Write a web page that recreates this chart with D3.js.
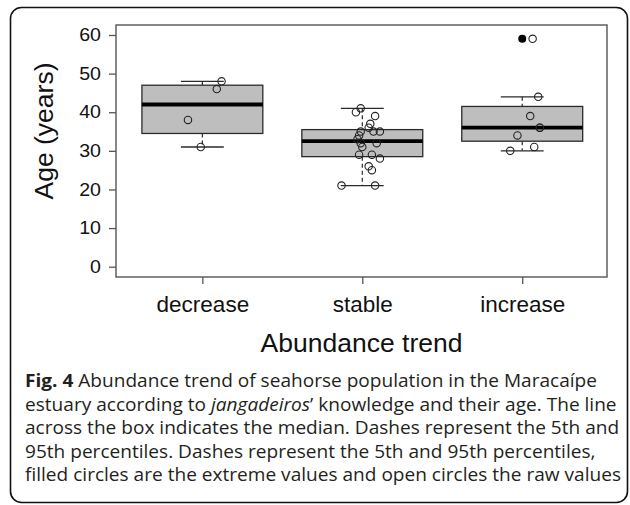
<!DOCTYPE html>
<html>
<head>
<meta charset="utf-8">
<script src="https://cdn.jsdelivr.net/npm/d3@7"></script>
<style>
  body { margin: 0; background: #fff; }
  svg { display: block; }
</style>
</head>
<body>
<div class="canvas"></div>
<script>
// categories and raw ages
const categories = ['decrease', 'stable', 'increase']
const decreaseAges = [48, 46, 38, 31]
const stableAges = [41, 40, 39, 37, 36, 35, 35, 35, 34, 33, 32, 32, 31, 29, 29, 28, 26, 25, 21, 21]
const increaseAges = [59, 44, 39, 36, 36, 34, 31, 30]
// horizontal jitter of each raw point, in category units
const decreaseJitter = [0.12, 0.09, -0.09, -0.01]
const stableJitter = [-0.01, -0.04, 0.08, 0.05, 0.04, -0.01, 0.07, 0.11, -0.02, -0.03, -0.01, 0.09, 0, -0.02, 0.06, 0.11, 0.04, 0.06, -0.13, 0.08]
const increaseJitter = [0.065, 0.1, 0.05, 0.11, 0.11, -0.03, 0.075, -0.075]
const yTicks = [0, 10, 20, 30, 40, 50, 60]

const captionLines = [
  [{t: 'Fig. 4', w: 'bold'}, {t: ' Abundance trend of seahorse population in the Maracaípe'}],
  [{t: 'estuary according to '}, {t: 'jangadeiros', s: 'italic'}, {t: '’ knowledge and their age. The line'}],
  [{t: 'across the box indicates the median. Dashes represent the 5th and'}],
  [{t: '95th percentiles. Dashes represent the 5th and 95th percentiles,'}],
  [{t: 'filled circles are the extreme values and open circles the raw values'}]
]

const groups = [
  {name: categories[0], ages: decreaseAges, jitter: decreaseJitter},
  {name: categories[1], ages: stableAges, jitter: stableJitter},
  {name: categories[2], ages: increaseAges, jitter: increaseJitter}
]

const W = 630, H = 505
const svg = d3.select('.canvas').append('svg')
    .attr('width', W)
    .attr('height', H)

// rounded panel border
svg.append('rect')
    .attr('x', 10.5).attr('y', 7.5)
    .attr('width', 617).attr('height', 495)
    .attr('rx', 11)
    .attr('fill', 'none')
    .attr('stroke', '#111')
    .attr('stroke-width', 1.6)

// plot frame
const frame = {left: 116, top: 25, right: 607, bottom: 277}

const x = d3.scaleLinear()
    .domain([0.46, 3.53])
    .range([frame.left, frame.right])

const y = d3.scaleLinear()
    .domain([0, 60])
    .range([266.7, 35])

// R style five number summary
const fivenum = (arr) => {
  const s = arr.slice().sort(d3.ascending)
  const n = s.length
  const n4 = Math.floor((n + 3) / 2) / 2
  const d = [1, n4, (n + 1) / 2, n + 1 - n4, n]
  return d.map(v => 0.5 * (s[Math.floor(v) - 1] + s[Math.ceil(v) - 1]))
}

groups.forEach((g, i) => {
  const f = fivenum(g.ages)
  const iqr = f[3] - f[1]
  const inside = g.ages.filter(v => v >= f[1] - 1.5 * iqr && v <= f[3] + 1.5 * iqr)
  g.pos = i + 1
  g.q1 = f[1]; g.med = f[2]; g.q3 = f[3]
  g.lo = d3.min(inside); g.hi = d3.max(inside)
  g.out = g.ages.filter(v => v < g.lo || v > g.hi)
})

const plot = svg.append('g')
const boxHalf = 0.378
const capHalf = 0.134
const dark = '#2b2b2b'

const box = plot.selectAll('g.box')
    .data(groups)
    .enter().append('g')
    .attr('class', 'box')

// whiskers (dashed)
box.append('line')
    .attr('x1', d => x(d.pos)).attr('x2', d => x(d.pos))
    .attr('y1', d => y(d.hi)).attr('y2', d => y(d.q3))
    .attr('stroke', dark).attr('stroke-width', 1.2)
    .attr('stroke-dasharray', '4,3')
box.append('line')
    .attr('x1', d => x(d.pos)).attr('x2', d => x(d.pos))
    .attr('y1', d => y(d.q1)).attr('y2', d => y(d.lo))
    .attr('stroke', dark).attr('stroke-width', 1.2)
    .attr('stroke-dasharray', '4,3')

// caps
box.selectAll('line.cap')
    .data(d => [{pos: d.pos, v: d.hi}, {pos: d.pos, v: d.lo}])
    .enter().append('line')
    .attr('class', 'cap')
    .attr('x1', d => x(d.pos - capHalf)).attr('x2', d => x(d.pos + capHalf))
    .attr('y1', d => y(d.v)).attr('y2', d => y(d.v))
    .attr('stroke', dark).attr('stroke-width', 1.3)

// box body
box.append('rect')
    .attr('x', d => x(d.pos - boxHalf))
    .attr('width', d => x(d.pos + boxHalf) - x(d.pos - boxHalf))
    .attr('y', d => y(d.q3))
    .attr('height', d => y(d.q1) - y(d.q3))
    .attr('fill', '#bebebe')
    .attr('stroke', dark)
    .attr('stroke-width', 1.3)

// median
box.append('line')
    .attr('x1', d => x(d.pos - boxHalf)).attr('x2', d => x(d.pos + boxHalf))
    .attr('y1', d => y(d.med)).attr('y2', d => y(d.med))
    .attr('stroke', '#000').attr('stroke-width', 3.8)

// extreme values (filled)
box.selectAll('circle.out')
    .data(d => d.out.map(v => ({pos: d.pos, v})))
    .enter().append('circle')
    .attr('class', 'out')
    .attr('cx', d => x(d.pos)).attr('cy', d => y(d.v))
    .attr('r', 4)
    .attr('fill', '#000')

// raw values (open, jittered)
box.selectAll('circle.raw')
    .data(d => d.ages.map((v, k) => ({pos: d.pos + d.jitter[k], v})))
    .enter().append('circle')
    .attr('class', 'raw')
    .attr('cx', d => x(d.pos)).attr('cy', d => y(d.v))
    .attr('r', 3.7)
    .attr('fill', 'none')
    .attr('stroke', '#222')
    .attr('stroke-width', 1.1)

// frame on top
svg.append('rect')
    .attr('x', frame.left).attr('y', frame.top)
    .attr('width', frame.right - frame.left)
    .attr('height', frame.bottom - frame.top)
    .attr('fill', 'none')
    .attr('stroke', '#555')
    .attr('stroke-width', 1.4)

// y axis (labels look a little wider than tall in the figure)
const ySx = 1.12
const yAxis = svg.append('g')
    .attr('transform', `translate(${frame.left},0)`)
    .call(d3.axisLeft(y).tickValues(yTicks).tickSize(7).tickPadding(8))
yAxis.select('.domain').remove()
yAxis.selectAll('line').attr('stroke', '#555').attr('stroke-width', 1.3)
yAxis.selectAll('text')
    .attr('x', -15 / ySx)
    .attr('transform', `scale(${ySx},1)`)
    .attr('font-family', 'Liberation Sans, Arial, sans-serif')
    .attr('font-size', 17.5)
    .attr('fill', '#111')

// x axis
const xAxis = svg.append('g')
    .attr('transform', `translate(0,${frame.bottom})`)
    .call(d3.axisBottom(x).tickValues([1, 2, 3]).tickFormat(d => categories[d - 1]).tickSize(7).tickPadding(0))
xAxis.select('.domain').remove()
xAxis.selectAll('line').attr('stroke', '#555').attr('stroke-width', 1.3)
xAxis.selectAll('text')
    .attr('dy', null)
    .attr('y', 35)
    .attr('font-family', 'Liberation Sans, Arial, sans-serif')
    .attr('font-size', 22.5)
    .attr('fill', '#111')

// axis titles
svg.append('text')
    .attr('x', (frame.left + frame.right) / 2)
    .attr('y', 352)
    .attr('text-anchor', 'middle')
    .attr('font-family', 'Liberation Sans, Arial, sans-serif')
    .attr('font-size', 26.5)
    .attr('fill', '#111')
    .text('Abundance trend')

svg.append('text')
    .attr('transform', 'translate(53,131) rotate(-90)')
    .attr('text-anchor', 'middle')
    .attr('font-family', 'Liberation Sans, Arial, sans-serif')
    .attr('font-size', 26.5)
    .attr('fill', '#111')
    .text('Age (years)')

// caption
const capSx = 1.09
captionLines.forEach((line, i) => {
  const row = svg.append('text')
      .attr('transform', `translate(25,${387 + i * 23.5}) scale(${capSx},1)`)
      .attr('font-family', 'Open Sans, Noto Sans, sans-serif')
      .attr('font-size', 17.5)
      .attr('fill', '#231f20')
  line.forEach(part => {
    row.append('tspan')
        .attr('font-weight', part.w || null)
        .attr('font-style', part.s || null)
        .text(part.t)
  })
})
</script>
</body>
</html>
